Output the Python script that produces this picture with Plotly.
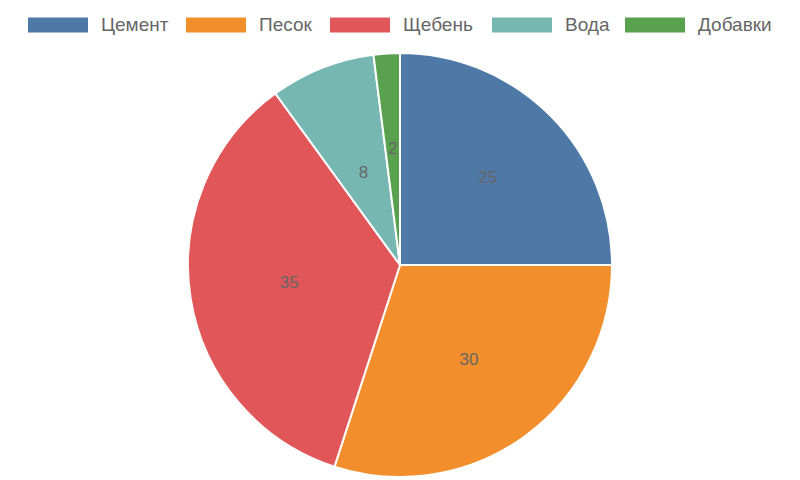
import plotly.graph_objects as go

labels = ['Цемент', 'Песок', 'Щебень', 'Вода', 'Добавки']
values = [25, 30, 35, 8, 2]
colors = ['#4E79A7', '#F28E2B', '#E15759', '#76B7B2', '#59A14F']

W, H = 800, 480
OFF = 8  # page body margin shifts the figure div by 8px
FONT = 'Liberation Sans, Arial, sans-serif'
TEXT_COLOR = '#666666'

# pie geometry (window pixels)
CX, CY, R = 400, 265, 212
R_SMALL = 124

# legend layout (window pixels)
LEG_X0 = 28
LEG_Y = 25
SW_W, SW_H = 60, 15
SW_GAP = 11
ITEM_GAP = 17
text_w = [70, 56, 74, 45, 74]


def px_x(v):
    return (v - OFF) / W


def px_y(v):
    return 1 - (v - OFF) / H


def pie_domain(r):
    return dict(x=[px_x(CX - r), px_x(CX + r)], y=[px_y(CY + r), px_y(CY - r)])


fig = go.Figure()

big = [v >= 10 for v in values]

fig.add_trace(go.Pie(
    labels=labels,
    values=values,
    sort=False,
    direction='clockwise',
    rotation=0,
    domain=pie_domain(R),
    marker=dict(colors=colors, line=dict(color='white', width=2)),
    texttemplate=['%{value}' if b else '' for b in big],
    textposition='inside',
    insidetextorientation='horizontal',
    textfont=dict(size=17, color=TEXT_COLOR, family=FONT),
    showlegend=False,
    hoverinfo='label+value+percent',
))

# small slices: label them on a smaller transparent copy so text sits nearer mid-radius
fig.add_trace(go.Pie(
    labels=labels,
    values=values,
    sort=False,
    direction='clockwise',
    rotation=0,
    domain=pie_domain(R_SMALL),
    marker=dict(colors=['rgba(0,0,0,0)'] * len(values), line=dict(width=0)),
    texttemplate=['' if b else '%{value}' for b in big],
    textposition='inside',
    insidetextorientation='horizontal',
    textfont=dict(size=17, color=TEXT_COLOR, family=FONT),
    showlegend=False,
    hoverinfo='skip',
))

x = LEG_X0
for name, color, tw in zip(labels, colors, text_w):
    fig.add_shape(
        type='rect', xref='paper', yref='paper',
        x0=px_x(x), x1=px_x(x + SW_W),
        y0=px_y(LEG_Y - SW_H / 2), y1=px_y(LEG_Y + SW_H / 2),
        fillcolor=color, line=dict(width=0),
    )
    fig.add_annotation(
        xref='paper', yref='paper',
        x=px_x(x + SW_W + SW_GAP), y=px_y(LEG_Y),
        xanchor='left', yanchor='middle',
        text=name, showarrow=False,
        font=dict(size=19, color=TEXT_COLOR, family=FONT),
    )
    x += SW_W + SW_GAP + tw + ITEM_GAP

fig.update_layout(
    width=W,
    height=H,
    paper_bgcolor='white',
    plot_bgcolor='white',
    font=dict(family=FONT, color=TEXT_COLOR, size=16),
    margin=dict(l=0, r=0, t=0, b=0),
    uniformtext=dict(minsize=17, mode='show'),
    showlegend=False,
)

fig.write_html('out.html')
